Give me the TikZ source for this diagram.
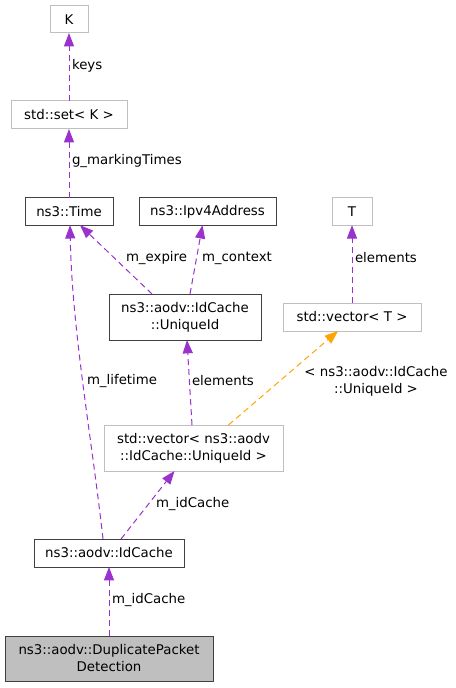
\documentclass[tikz,border=0pt]{standalone}
\usepackage{fontspec}
\setmainfont{DejaVu Sans}
\usetikzlibrary{arrows.meta,calc}
\definecolor{edgepurple}{HTML}{9A32CD}
\definecolor{edgeorange}{HTML}{FFA500}
\definecolor{boxgray}{HTML}{BFBFBF}
\definecolor{boxdark}{HTML}{404040}
\begin{document}
\begin{tikzpicture}[x=0.75pt,y=-0.75pt,
  every node/.style={font=\fontsize{10pt}{12.75pt}\selectfont, inner sep=0pt, outer sep=0pt, align=center},
  graybox/.style={draw=boxgray, line width=0.75pt, fill=white},
  darkbox/.style={draw=boxdark, line width=0.75pt, fill=white},
  mainbox/.style={draw=boxdark, line width=0.75pt, fill=boxgray},
  rel/.style={draw=edgepurple, line width=0.75pt, dash pattern=on 4.5pt off 3pt,
    -{Triangle[length=10pt,width=7.5pt,fill=edgepurple]}},
  tmpl/.style={draw=edgeorange, line width=0.75pt, dash pattern=on 4.5pt off 3pt,
    -{Triangle[length=10pt,width=7.5pt,fill=edgeorange]}},
  lbl/.style={anchor=west}
]
\useasboundingbox (0,0) rectangle (456,688);

\node[graybox, minimum width=28.5pt, minimum height=20.25pt] (K) at (69,19.5) {K};
\node[graybox, minimum width=87pt, minimum height=21pt] (set) at (69,115) {std::set\textless{} K \textgreater{}};
\node[darkbox, minimum width=66pt, minimum height=20.5pt] (time) at (69,211.5) {ns3::Time};
\node[darkbox, minimum width=102.75pt, minimum height=20.5pt] (ipv4) at (207.5,211.5) {ns3::Ipv4Address};
\node[graybox, minimum width=30pt, minimum height=20.5pt] (T) at (352,211.5) {T};
\node[darkbox, minimum width=114pt, minimum height=34.5pt] (uid) at (185,317) {ns3::aodv::IdCache\\::UniqueId};
\node[graybox, minimum width=103.5pt, minimum height=21pt] (vecT) at (352,317) {std::vector\textless{} T \textgreater{}};
\node[graybox, minimum width=134.25pt, minimum height=34.5pt] (vecUID) at (193.5,448) {std::vector\textless{} ns3::aodv\\::IdCache::UniqueId \textgreater{}};
\node[darkbox, minimum width=112.5pt, minimum height=21pt] (idc) at (109,553) {ns3::aodv::IdCache};
\node[mainbox, minimum width=156pt, minimum height=33.75pt] (dpd) at (109,658.5) {ns3::aodv::DuplicatePacket\\Detection};

% connectors
\draw[rel] (set.north) -- (K.south);
\draw[rel] (time.north) -- (set.south);
\draw[rel] ($(uid.north)+(-33,0)$) -- ($(time.south)+(11,0)$);
\draw[rel] ($(uid.north)+(5,0)$) -- ($(ipv4.south)+(-5,0)$);
\draw[rel] (vecT.north) -- (T.south);
\draw[rel] ($(vecUID.north)+(-1.5,0)$) -- ($(uid.south)+(2,0)$);
\draw[tmpl] ($(vecUID.north)+(35,0)$) -- ($(vecT.south)+(-14,0)$);
\draw[rel] ($(idc.north)+(-6,0)$) .. controls (92,440) and (72,330) .. ($(time.south)+(1,0)$);
\draw[rel] ($(idc.north)+(12,0)$) -- ($(vecUID.south)+(-19,0)$);
\draw[rel] (dpd.north) -- (idc.south);

% labels
\node[lbl] (lkeys) at (72,66) {keys};
\node[lbl] (lmark) at (72,161) {g\_markingTimes};
\node[lbl] (lexp) at (126,258) {m\_expire};
\node[lbl] (lctx) at (202,258) {m\_context};
\node[lbl] (lelT) at (355,258) {elements};
\node[lbl] (lelU) at (192,381) {elements};
\node[lbl] (llife) at (87,381) {m\_lifetime};
\node (ltmpl) at (376,381) {\textless{} ns3::aodv::IdCache\\::UniqueId \textgreater{}};
\node[lbl] (lidc1) at (156,504) {m\_idCache};
\node[lbl] (lidc2) at (112,600) {m\_idCache};
\end{tikzpicture}
\end{document}
